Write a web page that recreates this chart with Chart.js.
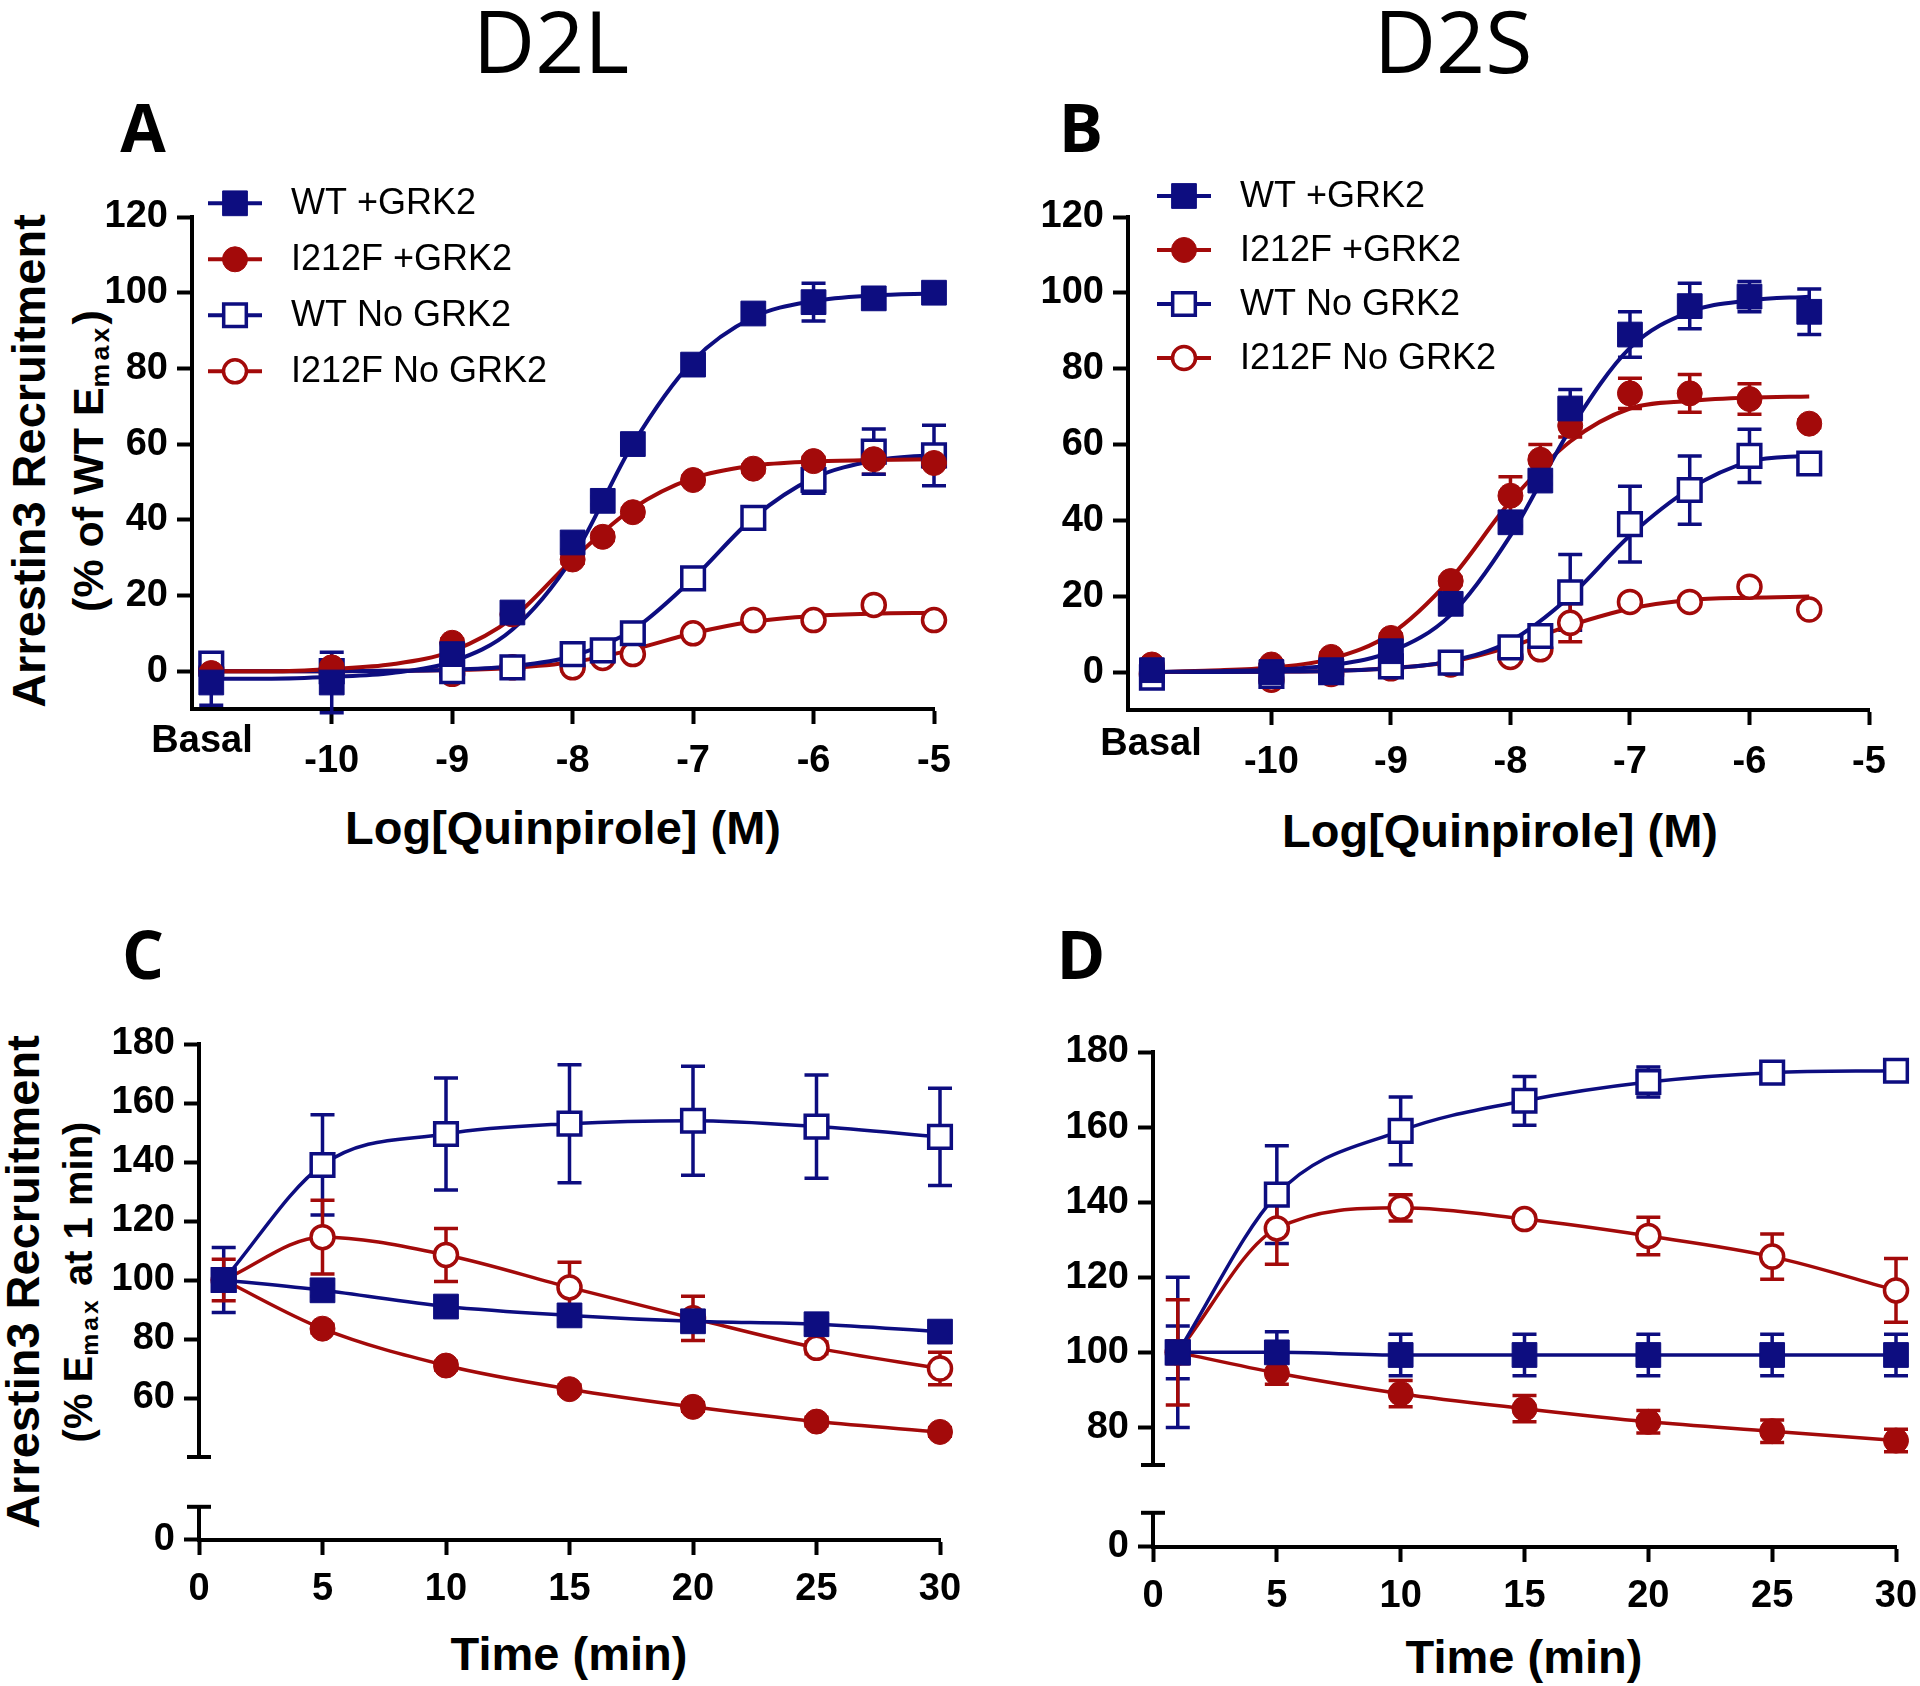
<!DOCTYPE html>
<html>
<head>
<meta charset="utf-8">
<script src="https://cdn.jsdelivr.net/npm/chart.js@4.4.1/dist/chart.umd.min.js"></script>
<style>
    body { margin: 0; background: #fff; }
    #page { position: relative; width: 1920px; height: 1686px; overflow: hidden; background: #fff;
            font-family: Arial, "Liberation Sans", sans-serif; color: #000; }
    canvas { position: absolute; }
    .lbl { position: absolute; white-space: nowrap; transform: translate(-50%, -50%); line-height: 1; }
    .head { font-family: "Open Sans", sans-serif; font-size: 86px; }
    .letter { font-family: "Open Sans", sans-serif; font-weight: bold; font-size: 66px; }
    .xt { font-weight: bold; font-size: 47px; }
    .yt { font-weight: bold; transform: translate(-50%, -50%) rotate(-90deg); }
    .yt1 { font-size: 47px; }
    .yt2 { font-size: 40px; }
    .yt2 sub { font-size: 0.62em; letter-spacing: 0.12em; vertical-align: -0.25em; line-height: 0; }
</style>
</head>
<body>
<div id="page">
    <div class="lbl head" style="left:551px;top:40px">D2L</div>
    <div class="lbl head" style="left:1453px;top:40px">D2S</div>
    <div class="lbl letter" style="left:143px;top:126px">A</div>
    <div class="lbl letter" style="left:1081px;top:126px">B</div>
    <div class="lbl letter" style="left:143px;top:953px">C</div>
    <div class="lbl letter" style="left:1081px;top:953px">D</div>
    <div class="lbl xt" style="left:563px;top:827px">Log[Quinpirole] (M)</div>
    <div class="lbl xt" style="left:1500px;top:830px">Log[Quinpirole] (M)</div>
    <div class="lbl xt" style="left:569px;top:1653px">Time (min)</div>
    <div class="lbl xt" style="left:1524px;top:1656px">Time (min)</div>
    <div class="lbl yt yt1" style="left:28px;top:461px">Arrestin3 Recruitment</div>
    <div class="lbl yt yt2" style="left:88px;top:461px;font-size:43px">(% of WT E<sub>max</sub>)</div>
    <div class="lbl yt yt1" style="left:22px;top:1282px">Arrestin3 Recruitment</div>
    <div class="lbl yt yt2" style="left:78px;top:1282px">(% E<sub>max</sub> at 1 min)</div>
</div>
<script>
// ---- data ----
const seriesNames = ['WT +GRK2', 'I212F +GRK2', 'WT No GRK2', 'I212F No GRK2'];

// dose-response, log[quinpirole]; -11 is the "Basal" point
const doseA = [-11, -10, -9, -8.5, -8, -7.75, -7.5, -7, -6.5, -6, -5.5, -5];
const doseB = [-11, -10, -9.5, -9, -8.5, -8, -7.75, -7.5, -7, -6.5, -6, -5.5];
const doseTicks = [-11, -10, -9, -8, -7, -6, -5];
const pctTicks = [0, 20, 40, 60, 80, 100, 120];

const wtGrkA = [-3, -3, 4.5, 15.5, 34, 45, 60, 81, 94.5, 97.5, 98.5, 100];
const wtGrkAErr = [6, 8, 1, 1, 2, 1, 1, 1, 1, 5, 1, 1];
const i212GrkA = [-0.5, 1, 7.5, 15, 29.5, 35.5, 42, 50.5, 53.5, 55.5, 56, 55];
const i212GrkAErr = [1, 1, 1, 1, 1, 1, 1, 1, 1, 1, 4, 1];
const wtNoA = [2, 0, 0, 1, 4.5, 5.5, 10, 24.5, 40.5, 50.5, 58, 57];
const wtNoAErr = [1, 1, 1, 1, 1, 1, 1, 1, 1, 3.5, 6, 8];
const i212NoA = [0.5, 0, -0.7, 1, 1, 3.5, 4.5, 10, 13.5, 13.5, 17.5, 13.5];
const i212NoAErr = [1, 1, 1, 1, 1, 1, 1, 1, 1, 1, 1, 1];

// fitted curves, read at half-log steps
const fitDoseA = [-11, -10.5, -10, -9.5, -9, -8.5, -8, -7.5, -7, -6.5, -6, -5.5, -5];
const wtGrkFitA = [-2, -2, -1.5, -0.5, 2.5, 11, 30, 60, 82, 93.5, 97.8, 99.3, 99.8];
const i212GrkFitA = [0, 0, 0.6, 1.8, 5.3, 14, 29.5, 43, 51, 54.3, 55.4, 55.8, 56];
const wtNoFitA = [0, 0, 0, 0.1, 0.4, 1.3, 4, 10.9, 24.5, 40.5, 51, 55.6, 57.2];
const i212NoFitA = [0, 0, 0, 0.1, 0.3, 0.85, 2.4, 5.7, 10, 13.1, 14.6, 15.2, 15.4];

const wtGrkB = [0.5, 0, 0.5, 5.5, 18, 39.5, 50.5, 69.5, 89, 96.5, 99, 95];
const wtGrkBErr = [1, 1, 1, 2, 1, 1, 1, 5, 6, 6, 4, 6];
const i212GrkB = [2, 2, 4, 9, 24, 46.5, 56, 65, 73.5, 73.5, 72, 65.5];
const i212GrkBErr = [1, 1, 1, 1, 1, 5, 4, 3, 4, 5, 4, 1];
const wtNoB = [-1.5, -1, 0, 1.5, 2.5, 6.5, 9.5, 21, 39, 48, 57, 55];
const wtNoBErr = [1, 1, 1, 1, 1, 1, 1, 10, 10, 9, 7, 1];
const i212NoB = [-0.5, -2, -0.5, 1, 2, 4, 6, 13, 18.5, 18.5, 22.5, 16.5];
const i212NoBErr = [1, 1, 1, 1, 1, 1, 1, 5, 1, 1, 1, 1];

const fitDoseB = [-11, -10.5, -10, -9.5, -9, -8.5, -8, -7.5, -7, -6.5, -6, -5.5];
const wtGrkFitB = [0, 0.2, 0.6, 1.8, 5.4, 15.1, 36, 64, 85.5, 95, 98, 99];
const i212GrkFitB = [0, 0.4, 1.2, 3.5, 10.1, 24.6, 45, 60.8, 69.5, 71.5, 72.4, 72.7];
const wtNoFitB = [0, 0, 0.1, 0.3, 1, 2.9, 8.2, 20, 36, 48.3, 55.5, 57.1];
const i212NoFitB = [0, 0, 0.1, 0.3, 1, 2.7, 6.7, 12.3, 16.7, 19, 19.6, 19.9];

// time course, minutes
const timeMin = [1, 5, 10, 15, 20, 25, 30];
const timeTicks = [0, 5, 10, 15, 20, 25, 30];
const cTicks = [40, 60, 80, 100, 120, 140, 160, 180];
const dTicks = [70, 80, 100, 120, 140, 160, 180];

const wtGrkC = [100, 96.5, 91, 88, 86, 85, 82.5];
const wtGrkCErr = [2, 2, 2, 2, 2, 2, 2];
const i212GrkC = [100, 83.5, 71, 63, 57, 52, 48.5];
const i212GrkCErr = [2, 1.5, 1.5, 1.5, 1.5, 1.5, 1.5];
const wtNoC = [100, 139, 149.5, 153, 154, 152, 148.5];
const wtNoCErr = [11, 17, 19, 20, 18.5, 17.5, 16.5];
const i212NoC = [100, 114.5, 108.5, 97.5, 87, 77, 70];
const i212NoCErr = [7, 12.5, 9, 8.5, 7.5, 2, 5.5];

const wtGrkD = [100, 100, 99.3, 99.3, 99.3, 99.3, 99.3];
const wtGrkDErr = [7, 5.5, 5.5, 5.5, 5.5, 5.5, 5.5];
const i212GrkD = [100, 94.5, 89, 85, 81.5, 79, 76.5];
const i212GrkDErr = [3, 3, 3.5, 3.5, 3, 3, 3];
const wtNoD = [100, 142, 159, 167, 172, 174.5, 175];
const wtNoDErr = [20, 13, 9, 6.5, 4, 1, 1];
const i212NoD = [100, 133, 138.5, 135.5, 131, 125.5, 116.5];
const i212NoDErr = [14, 9.5, 3.5, 1, 5, 6, 8.5];

const BLUE = '#0d0d80';
const RED = '#a30a0a';
const FONT = 'Arial, "Liberation Sans", sans-serif';
const tickFont = { family: FONT, size: 38, weight: 'bold' };

// ---- plugins ----
const errorBars = {
    id: 'errorBars',
    beforeDatasetsDraw(chart) {
        const ctx = chart.ctx;
        chart.data.datasets.forEach((ds, i) => {
            if (!ds.errors) return;
            const meta = chart.getDatasetMeta(i);
            const ys = chart.scales[meta.yAxisID];
            ctx.save();
            ctx.strokeStyle = ds.borderColor;
            ctx.lineWidth = 3.5;
            meta.data.forEach((pt, j) => {
                const e = ds.errors[j];
                if (!e) return;
                const v = ds.data[j].y;
                const top = ys.getPixelForValue(v + e);
                const bot = ys.getPixelForValue(v - e);
                ctx.beginPath();
                ctx.moveTo(pt.x, top); ctx.lineTo(pt.x, bot);
                ctx.moveTo(pt.x - 12, top); ctx.lineTo(pt.x + 12, top);
                ctx.moveTo(pt.x - 12, bot); ctx.lineTo(pt.x + 12, bot);
                ctx.stroke();
            });
            ctx.restore();
        });
    }
};

function drawMarker(ctx, ds, x, y) {
    ctx.fillStyle = ds.pointBackgroundColor;
    ctx.strokeStyle = ds.pointBorderColor;
    ctx.lineWidth = ds.pointBorderWidth;
    ctx.beginPath();
    if (ds.pointStyle === 'rect') {
        const h = ds.pointRadius * Math.SQRT1_2;
        ctx.rect(x - h, y - h, 2 * h, 2 * h);
    } else {
        ctx.arc(x, y, ds.pointRadius, 0, Math.PI * 2);
    }
    ctx.fill();
    ctx.stroke();
}

const panelLegend = {
    id: 'panelLegend',
    afterDraw(chart, args, opts) {
        if (!opts || !opts.show) return;
        const ctx = chart.ctx;
        const x0 = chart.chartArea.left + opts.dx;
        const y0 = chart.chartArea.top + opts.dy;
        const sets = chart.data.datasets.filter(d => d.legendText);
        sets.forEach((ds, i) => {
            const y = y0 + i * opts.step;
            ctx.save();
            ctx.strokeStyle = ds.borderColor;
            ctx.lineWidth = 4;
            ctx.beginPath();
            ctx.moveTo(x0, y);
            ctx.lineTo(x0 + 54, y);
            ctx.stroke();
            drawMarker(ctx, ds, x0 + 27, y);
            ctx.fillStyle = '#000';
            ctx.font = '36px ' + FONT;
            ctx.textBaseline = 'middle';
            ctx.textAlign = 'left';
            ctx.fillText(ds.legendText, x0 + opts.textDx, y + 1);
            ctx.restore();
        });
    }
};

const basalLabel = {
    id: 'basalLabel',
    afterDraw(chart, args, opts) {
        if (!opts || !opts.show) return;
        const ctx = chart.ctx;
        ctx.save();
        ctx.fillStyle = '#000';
        ctx.font = 'bold 38px ' + FONT;
        ctx.textAlign = 'center';
        ctx.textBaseline = 'middle';
        ctx.fillText('Basal', chart.chartArea.left + opts.dx, chart.chartArea.bottom + opts.dy);
        ctx.restore();
    }
};

// end caps of the broken y axis segments
const axisCaps = {
    id: 'axisCaps',
    afterDraw(chart, args, opts) {
        if (!opts || !opts.values) return;
        const ctx = chart.ctx;
        const ys = chart.scales.y;
        const x = chart.chartArea.left;
        ctx.save();
        ctx.strokeStyle = '#000';
        ctx.lineWidth = 4;
        opts.values.forEach(v => {
            const y = ys.getPixelForValue(v);
            ctx.beginPath();
            ctx.moveTo(x - 12, y);
            ctx.lineTo(x + 12, y);
            ctx.stroke();
        });
        ctx.restore();
    }
};

// ---- helpers ----
function axisBase(hidden) {
    return {
        border: { color: '#000', width: 4 },
        grid: { drawOnChartArea: false, drawTicks: true, tickLength: 15, tickWidth: 4,
                tickColor: c => (c.tick && hidden.includes(c.tick.value)) ? 'rgba(0,0,0,0)' : '#000' }
    };
}

function yAxis(min, max, vals, blank, width) {
    return Object.assign(axisBase(blank), {
        type: 'linear', position: 'left', min: min, max: max,
        afterBuildTicks: s => { s.ticks = vals.map(v => ({ value: v })); },
        afterFit: s => { s.width = width; },
        ticks: { color: '#000', font: tickFont, padding: 9, autoSkip: false,
                 callback: v => blank.includes(v) ? '' : String(v) }
    });
}

function xAxis(min, max, vals, blank, height, show, pad) {
    return Object.assign(axisBase(blank), {
        type: 'linear', position: 'bottom', min: min, max: max, display: show,
        afterBuildTicks: s => { s.ticks = vals.map(v => ({ value: v })); },
        afterFit: s => { s.height = height; },
        ticks: { color: '#000', font: tickFont, padding: pad, autoSkip: false, maxRotation: 0,
                 callback: v => blank.includes(v) ? '' : String(v) }
    });
}

function markerSet(name, xs, ys, errs, color, shape, open, withLine) {
    return {
        legendText: name,
        data: xs.map((x, i) => ({ x: x, y: ys[i] })),
        errors: errs,
        showLine: !!withLine,
        cubicInterpolationMode: 'monotone',
        borderColor: color,
        backgroundColor: open ? '#fff' : color,
        borderWidth: 3.5,
        pointStyle: shape,
        pointRadius: shape === 'rect' ? (open ? 16 : 17.5) : (open ? 11.5 : 12.5),
        pointBackgroundColor: open ? '#fff' : color,
        pointBorderColor: color,
        pointBorderWidth: open ? 3.5 : 1,
        clip: false,
        order: 1
    };
}

function fitSet(xs, ys, color) {
    return {
        data: xs.map((x, i) => ({ x: x, y: ys[i] })),
        showLine: true,
        cubicInterpolationMode: 'monotone',
        borderColor: color,
        borderWidth: 4,
        pointRadius: 0,
        order: 10
    };
}

function makeChart(box, area, xH, scales, datasets, plugOpts) {
    const c = document.createElement('canvas');
    c.width = box.w;
    c.height = box.h;
    c.style.left = box.x + 'px';
    c.style.top = box.y + 'px';
    document.getElementById('page').appendChild(c);
    return new Chart(c, {
        type: 'scatter',
        data: { datasets: datasets },
        options: {
            responsive: false,
            animation: false,
            events: [],
            layout: { padding: {
                left: 0,
                top: area.T - box.y,
                right: box.x + box.w - area.R,
                bottom: box.y + box.h - area.B - xH
            } },
            scales: scales,
            plugins: Object.assign({ legend: { display: false }, tooltip: { enabled: false } }, plugOpts)
        },
        plugins: [errorBars, panelLegend, basalLabel, axisCaps]
    });
}

// ---- panel A (D2L dose-response) ----
(function () {
    const box = { x: 0, y: 150, w: 990, h: 720 };
    const area = { L: 192, T: 217, R: 934, B: 709 };
    makeChart(box, area, 100, {
        x: xAxis(-11.16, -5, doseTicks, [-11], 100, true, 15),
        y: yAxis(-10, 120, pctTicks, [], area.L - box.x)
    }, [
        markerSet(seriesNames[0], doseA, wtGrkA, wtGrkAErr, BLUE, 'rect', false),
        markerSet(seriesNames[1], doseA, i212GrkA, i212GrkAErr, RED, 'circle', false),
        markerSet(seriesNames[2], doseA, wtNoA, wtNoAErr, BLUE, 'rect', true),
        markerSet(seriesNames[3], doseA, i212NoA, i212NoAErr, RED, 'circle', true),
        fitSet(fitDoseA, wtGrkFitA, BLUE),
        fitSet(fitDoseA, i212GrkFitA, RED),
        fitSet(fitDoseA, wtNoFitA, BLUE),
        fitSet(fitDoseA, i212NoFitA, RED)
    ], {
        panelLegend: { show: true, dx: 16, dy: -13.7, step: 56, textDx: 83 },
        basalLabel: { show: true, dx: 10, dy: 33 }
    });
})();

// ---- panel B (D2S dose-response) ----
(function () {
    const box = { x: 950, y: 150, w: 970, h: 720 };
    const area = { L: 1128, T: 217, R: 1869, B: 710 };
    makeChart(box, area, 100, {
        x: xAxis(-11.2, -5, doseTicks, [-11], 100, true, 15),
        y: yAxis(-10, 120, pctTicks, [], area.L - box.x)
    }, [
        markerSet(seriesNames[0], doseB, wtGrkB, wtGrkBErr, BLUE, 'rect', false),
        markerSet(seriesNames[1], doseB, i212GrkB, i212GrkBErr, RED, 'circle', false),
        markerSet(seriesNames[2], doseB, wtNoB, wtNoBErr, BLUE, 'rect', true),
        markerSet(seriesNames[3], doseB, i212NoB, i212NoBErr, RED, 'circle', true),
        fitSet(fitDoseB, wtGrkFitB, BLUE),
        fitSet(fitDoseB, i212GrkFitB, RED),
        fitSet(fitDoseB, wtNoFitB, BLUE),
        fitSet(fitDoseB, i212NoFitB, RED)
    ], {
        panelLegend: { show: true, dx: 29, dy: -21, step: 54, textDx: 83 },
        basalLabel: { show: true, dx: 23, dy: 35 }
    });
})();

// ---- panel C (D2L time course, broken y axis) ----
(function () {
    const boxU = { x: 0, y: 990, w: 990, h: 500 };
    const areaU = { L: 199, T: 1044, R: 940, B: 1457 };
    makeChart(boxU, areaU, 0, {
        x: xAxis(0, 30, timeTicks, [], 0, false, 12),
        y: yAxis(40, 180, cTicks, [40], areaU.L - boxU.x)
    }, [
        markerSet(seriesNames[0], timeMin, wtGrkC, wtGrkCErr, BLUE, 'rect', false, true),
        markerSet(seriesNames[1], timeMin, i212GrkC, i212GrkCErr, RED, 'circle', false, true),
        markerSet(seriesNames[2], timeMin, wtNoC, wtNoCErr, BLUE, 'rect', true, true),
        markerSet(seriesNames[3], timeMin, i212NoC, i212NoCErr, RED, 'circle', true, true)
    ], { axisCaps: { values: [40] } });
    const boxL = { x: 0, y: 1475, w: 990, h: 211 };
    const areaL = { L: 199, T: 1494, R: 940, B: 1540 };
    makeChart(boxL, areaL, 100, {
        x: xAxis(0, 30, timeTicks, [], 100, true, 12),
        y: yAxis(0, 15.5, [0, 15.5], [15.5], areaL.L - boxL.x)
    }, [], { axisCaps: { values: [15.5] } });
})();

// ---- panel D (D2S time course, broken y axis) ----
(function () {
    const boxU = { x: 950, y: 990, w: 1010, h: 510 };
    const areaU = { L: 1153, T: 1052, R: 1896, B: 1465 };
    makeChart(boxU, areaU, 0, {
        x: xAxis(0, 30, timeTicks, [], 0, false, 12),
        y: yAxis(70, 180, dTicks, [70], areaU.L - boxU.x)
    }, [
        markerSet(seriesNames[0], timeMin, wtGrkD, wtGrkDErr, BLUE, 'rect', false, true),
        markerSet(seriesNames[1], timeMin, i212GrkD, i212GrkDErr, RED, 'circle', false, true),
        markerSet(seriesNames[2], timeMin, wtNoD, wtNoDErr, BLUE, 'rect', true, true),
        markerSet(seriesNames[3], timeMin, i212NoD, i212NoDErr, RED, 'circle', true, true)
    ], { axisCaps: { values: [70] } });
    const boxL = { x: 950, y: 1481, w: 1010, h: 205 };
    const areaL = { L: 1153, T: 1502, R: 1896, B: 1547 };
    makeChart(boxL, areaL, 100, {
        x: xAxis(0, 30, timeTicks, [], 100, true, 12),
        y: yAxis(0, 12, [0, 12], [12], areaL.L - boxL.x)
    }, [], { axisCaps: { values: [12] } });
})();
</script>
</body>
</html>
